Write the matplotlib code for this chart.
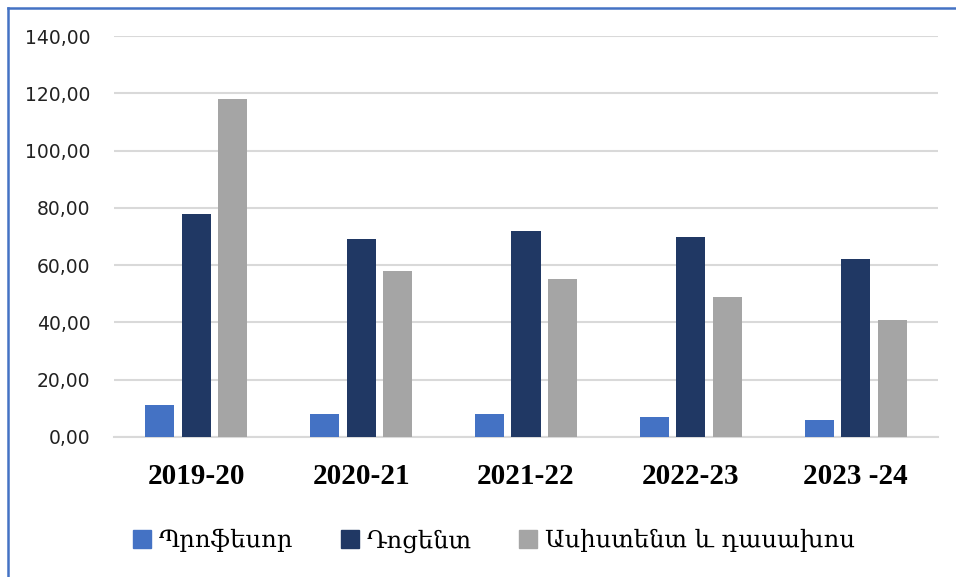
import matplotlib
matplotlib.use("Agg")
import matplotlib.pyplot as plt
from matplotlib.lines import Line2D
import numpy as np

categories = ["2019-20", "2020-21", "2021-22", "2022-23", "2023 -24"]
series_names = ["Պրոֆեսոր", "Դոցենտ", "Ասիստենտ և դասախոս"]
professor = [11, 8, 8, 7, 6]
docent = [78, 69, 72, 70, 62]
assistant = [118, 58, 55, 49, 41]
yticks = [0, 20, 40, 60, 80, 100, 120, 140]
ytick_labels = ["0,00", "20,00", "40,00", "60,00", "80,00", "100,00", "120,00", "140,00"]
colors = ["#4472C4", "#203864", "#A5A5A5"]

W, H = 956, 577
fig = plt.figure(figsize=(W / 100, H / 100), dpi=100)
ax = fig.add_axes([114 / W, 1 - 437 / H, (938 - 114) / W, (437 - 36) / H])

x = np.arange(len(categories))
width = 0.176
step = 0.2215
for i, (vals, c) in enumerate(zip([professor, docent, assistant], colors)):
    ax.bar(x + (i - 1) * step, vals, width=width, color=c, zorder=3)

ax.set_xlim(-0.5, len(categories) - 0.5)
ax.set_ylim(0, 140)
ax.set_yticks(yticks)
ax.set_yticklabels(ytick_labels, fontsize=13.5, family="DejaVu Sans", color="#222222")
ax.set_xticks(x)
ax.set_xticklabels(categories, fontsize=21, family=["Liberation Serif", "DejaVu Serif"], fontweight="bold")
ax.tick_params(axis="y", length=0, pad=17)
ax.tick_params(axis="x", length=0, pad=19)
ax.grid(axis="y", color="#D9D9D9", linewidth=1.5, zorder=0)
for s in ["top", "right", "left"]:
    ax.spines[s].set_visible(False)
ax.spines["bottom"].set_color("#D9D9D9")
ax.spines["bottom"].set_linewidth(1.5)

handles = [Line2D([], [], marker="s", linestyle="none", markersize=13, color=c) for c in colors]
fig.legend(handles, series_names, loc="center", bbox_to_anchor=(493.5 / W, 1 - 541 / H),
           ncol=3, frameon=False, prop={"family": ["DejaVu Serif"], "size": 17.5},
           handletextpad=0.3, columnspacing=1.9, handlelength=0.8)

# blue border on left and top
fig.add_artist(Line2D([7.5 / W, 7.5 / W], [0, 1 - 7.5 / H], color="#4472C4", linewidth=1.8, transform=fig.transFigure))
fig.add_artist(Line2D([7.5 / W, 1], [1 - 7.5 / H, 1 - 7.5 / H], color="#4472C4", linewidth=1.8, transform=fig.transFigure))

fig.savefig("out.png", dpi=100)
